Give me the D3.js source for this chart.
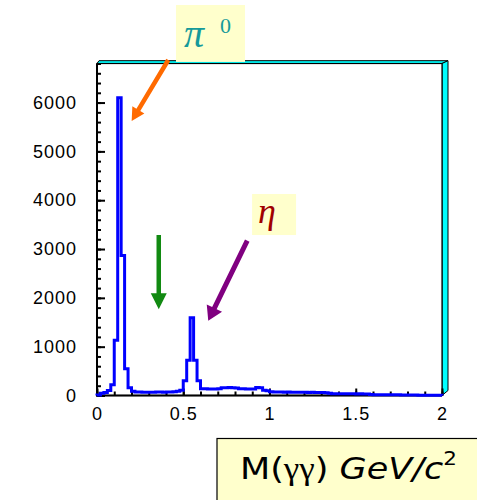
<!DOCTYPE html>
<html><head><meta charset="utf-8">
<script src="https://cdn.jsdelivr.net/npm/d3@7"></script>
<style>html,body{margin:0;padding:0;background:#fff;overflow:hidden}</style>
</head><body>
<svg id="c" width="477" height="500"></svg>
<script>
// ---- data ----
const binWidth = 0.02;           // GeV per bin
const counts = [
  10, 45, 60, 100, 220, 1130, 6100, 2870, 550, 160,
  85, 72, 70, 68, 66, 66, 68, 70, 70, 68,
  70, 72, 75, 85, 110, 300, 720, 1590, 720, 300,
  140, 137, 135, 132, 135, 140, 158, 160, 162, 158,
  155, 140, 137, 135, 132, 135, 165, 160, 105, 95,
  75, 72, 70, 70, 68, 70, 68, 66, 68, 65,
  66, 64, 65, 62, 60, 60, 58, 48, 38, 36,
  36, 35, 35, 34, 34, 33, 34, 33, 30, 18,
  16, 15, 15, 14, 14, 13, 14, 13, 12, 12,
  12, 11, 10, 6, 5, 5, 4, 4, 3, 3
];
const xTickValues = [0, 0.5, 1, 1.5, 2];
const xTickLabels = ["0", "0.5", "1", "1.5", "2"];
const yTickValues = [0, 1000, 2000, 3000, 4000, 5000, 6000];
const yTickLabels = ["0", "1000", "2000", "3000", "4000", "5000", "6000"];
const xDomain = [0, 2];
const yDomain = [0, 6800];
const xMinorStep = 0.1, yMinorStep = 200;

// annotations in data units
const annotations = [
  {label: "pi0", from: [0.413, 6872], to: [0.201, 5622], color: "#ff6a00"},
  {label: "gap", from: [0.358, 3287], to: [0.358, 1766], color: "#128a12"},
  {label: "eta", from: [0.871, 3171], to: [0.645, 1532], color: "#800080"}
];

// ---- drawing ----
const svg = d3.select("#c");
const L = 97, R = 442, T = 63.5, B = 395.5;
const x = d3.scaleLinear().domain(xDomain).range([L, R]);
const y = d3.scaleLinear().domain(yDomain).range([B, T]);

// 3D frame bevel (top + right cyan)
const bt = 2.8, br = 6;
svg.append("polygon")
  .attr("points", [[L, T], [L + 2, T - bt], [R + br, T - bt], [R, T]].join(" "))
  .attr("fill", "#00ffff").attr("stroke", "#000").attr("stroke-width", 1);
svg.append("polygon")
  .attr("points", [[R, T], [R + br, T - bt], [R + br, B - 5], [R, B]].join(" "))
  .attr("fill", "#00ffff").attr("stroke", "#000").attr("stroke-width", 1);
svg.append("rect").attr("x", L).attr("y", T).attr("width", R - L).attr("height", B - T)
  .attr("fill", "#fff").attr("stroke", "#000").attr("stroke-width", 1.2);
svg.append("line").attr("x1", L).attr("x2", L).attr("y1", T).attr("y2", B + 1)
  .attr("stroke", "#000").attr("stroke-width", 2);
svg.append("line").attr("x1", L - 1).attr("x2", R).attr("y1", B).attr("y2", B)
  .attr("stroke", "#000").attr("stroke-width", 2);

// ticks
const fontTick = "'Liberation Sans', Arial, sans-serif";
const xMinor = d3.range(xDomain[0], xDomain[1] + 1e-9, xMinorStep);
const yMinor = d3.range(yDomain[0], yDomain[1] + 1e-9, yMinorStep);

const gxm = svg.append("g").attr("transform", `translate(0,${B})`)
  .call(d3.axisBottom(x).tickValues(xMinor).tickSize(-4).tickFormat(""));
const gx = svg.append("g").attr("transform", `translate(0,${B})`)
  .call(d3.axisBottom(x).tickValues(xTickValues).tickSize(-7).tickPadding(12)
    .tickFormat((d, i) => xTickLabels[i]));
const gym = svg.append("g").attr("transform", `translate(${L},0)`)
  .call(d3.axisLeft(y).tickValues(yMinor).tickSize(-4).tickFormat(""));
const gy = svg.append("g").attr("transform", `translate(${L},0)`)
  .call(d3.axisLeft(y).tickValues(yTickValues).tickSize(-8).tickPadding(20)
    .tickFormat((d, i) => yTickLabels[i]));
[gxm, gx, gym, gy].forEach(g => {
  g.select(".domain").remove();
  g.selectAll(".tick line").attr("stroke", "#000").attr("stroke-width", 2);
  g.selectAll("text").attr("font-family", fontTick).attr("font-size", 18)
    .attr("letter-spacing", 1).attr("fill", "#000");
});

// histogram outline
const pts = [[x(0), y(0)]];
counts.forEach((c, i) => {
  pts.push([x(i * binWidth), y(c)]);
  pts.push([x((i + 1) * binWidth), y(c)]);
});
pts.push([x(counts.length * binWidth), y(0)]);
svg.append("path").attr("d", d3.line()(pts))
  .attr("fill", "none").attr("stroke", "#0000ff").attr("stroke-width", 3)
  .attr("stroke-linejoin", "miter");

// annotation boxes & labels
function box(x0, y0, x1, y1, fill) {
  svg.append("rect").attr("x", x(x0)).attr("y", y(y1))
    .attr("width", x(x1) - x(x0)).attr("height", y(y0) - y(y1)).attr("fill", fill);
}
box(0.458, 6832, 0.858, 7998, "#ffffcc");
box(0.899, 3287, 1.154, 4127, "#ffffcc");

const serif = "'Liberation Serif', 'Times New Roman', serif";
svg.append("text").attr("x", x(0.505)).attr("y", y(7144))
  .attr("font-family", serif).attr("font-style", "italic").attr("font-size", 40)
  .attr("fill", "#169a9a").text("π");
svg.append("text").attr("x", x(0.713)).attr("y", y(7431))
  .attr("font-family", serif).attr("font-size", 22).attr("fill", "#169a9a").text("0");
svg.append("text").attr("x", x(0.933)).attr("y", y(3533))
  .attr("font-family", serif).attr("font-style", "italic").attr("font-size", 36)
  .attr("fill", "#a00000").text("η");

// arrows
function arrowPoly(x1, y1, x2, y2, sw, hl, hw) {
  const dx = x2 - x1, dy = y2 - y1, len = Math.hypot(dx, dy);
  const ux = dx / len, uy = dy / len, px = -uy, py = ux;
  const bx = x2 - ux * hl, by = y2 - uy * hl;
  return [
    [x1 + px * sw / 2, y1 + py * sw / 2], [bx + px * sw / 2, by + py * sw / 2],
    [bx + px * hw, by + py * hw], [x2, y2], [bx - px * hw, by - py * hw],
    [bx - px * sw / 2, by - py * sw / 2], [x1 - px * sw / 2, y1 - py * sw / 2]
  ];
}
const arrowStyle = {pi0: [4.5, 13, 7], gap: [4.5, 16, 8], eta: [5, 14, 8.5]};
annotations.forEach(a => {
  const s = arrowStyle[a.label];
  svg.append("polygon")
    .attr("points", arrowPoly(x(a.from[0]), y(a.from[1]), x(a.to[0]), y(a.to[1]), s[0], s[1], s[2]).join(" "))
    .attr("fill", a.color);
});

// axis title box
svg.append("rect").attr("x", 217).attr("y", 438.5).attr("width", 300).attr("height", 100)
  .attr("fill", "#ffffcc").attr("stroke", "#000").attr("stroke-width", 1.2);
const tf = "'Comic Sans MS', 'DejaVu Sans', sans-serif";
const title = svg.append("text").attr("x", 240).attr("y", 479)
  .attr("font-family", tf).attr("font-size", 31).attr("fill", "#000")
  .attr("textLength", 217).attr("lengthAdjust", "spacingAndGlyphs");
title.append("tspan").text("M(");
title.append("tspan").attr("font-family", serif).text("γγ");
title.append("tspan").text(") ");
title.append("tspan").attr("font-style", "italic").text("GeV/c");
title.append("tspan").attr("font-size", 19).attr("dy", -14).text("2");
</script>
</body></html>
